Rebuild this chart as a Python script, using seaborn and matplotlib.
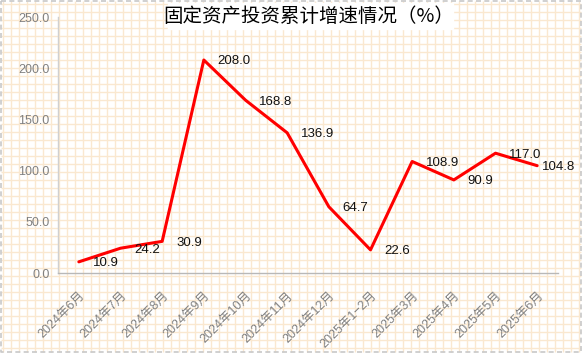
import numpy as np
import pandas as pd
import matplotlib
matplotlib.use("Agg")
import matplotlib.pyplot as plt
import seaborn as sns

months = ["2024年6月", "2024年7月", "2024年8月", "2024年9月", "2024年10月", "2024年11月",
          "2024年12月", "2025年1−2月", "2025年3月", "2025年4月", "2025年5月", "2025年6月"]
growth = [10.9, 24.2, 30.9, 208.0, 168.8, 136.9, 64.7, 22.6, 108.9, 90.9, 117.0, 104.8]
yticks = [0, 50, 100, 150, 200, 250]
title = "固定资产投资累计增速情况（%）"

sns.set_theme(style="white")
plt.rcParams['font.family'] = ['Liberation Sans', 'Noto Sans CJK SC', 'DejaVu Sans']

W, H = 583, 363
fig = plt.figure(figsize=(W / 100, H / 100), dpi=100)
fig.patch.set_facecolor("white")

# graph-paper background
bg = fig.add_axes([0, 0, 1, 1], zorder=-5)
bg.set_xlim(0, W)
bg.set_ylim(H, 0)
bg.axis("off")
gx, gy = 581, 352
grid_c = "#fae8d0"
for x in np.arange(3, gx, 8):
    bg.plot([x, x], [1, gy], color=grid_c, lw=1.0, solid_capstyle="butt")
for y in np.arange(4, gy, 8):
    bg.plot([1, gx], [y, y], color=grid_c, lw=1.0, solid_capstyle="butt")
bg.plot([1, gx, gx, 1, 1], [1, 1, gy, gy, 1], color="#c8c8c8", lw=1.2, ls=(0, (3, 2)))
# title box
bg.add_patch(plt.Rectangle((168, 3), 285, 26, color="white", zorder=2))
bg.text(309, 16, title, ha="center", va="center", fontsize=14, fontweight="medium",
        family=['Noto Sans CJK SC', 'DejaVu Sans'], color="#000000", zorder=3)

ax = fig.add_axes([58 / W, 1 - 273 / H, 500 / W, 256 / H])
ax.patch.set_alpha(0)
df = pd.DataFrame({"month": months, "growth": growth})
sns.lineplot(data=df, x="month", y="growth", sort=False, color="#ff0000",
             linewidth=2.2, ax=ax)
ax.set_xlim(-0.5, len(months) - 0.5)
ax.set_ylim(0, 250)
ax.set_yticks(yticks)
ax.set_yticklabels([f"{v:.1f}" for v in yticks])
ax.set_xlabel("")
ax.set_ylabel("")
ax.tick_params(axis="both", length=0, colors="#808080", labelsize=9)
ax.tick_params(axis="y", pad=6)
ax.tick_params(axis="x", pad=12)
for lab in ax.get_xticklabels():
    lab.set_rotation(45)
    lab.set_ha("right")
    lab.set_va("top")
    lab.set_rotation_mode("anchor")
for s in ["top", "right"]:
    ax.spines[s].set_visible(False)
ax.spines["left"].set_color("#d0d0d0")
ax.spines["bottom"].set_color("#b8b8b8")
ax.spines["left"].set_linewidth(1)
ax.spines["bottom"].set_linewidth(1)

n = len(growth)
for i, v in enumerate(growth):
    dx = 3.6 if i == n - 1 else 10
    ax.annotate(f"{v:.1f}", (i, v), xytext=(dx, -1), textcoords="offset points",
                ha="left", va="center", fontsize=9.5, color="#111111")

fig.savefig("out.png", dpi=100)
